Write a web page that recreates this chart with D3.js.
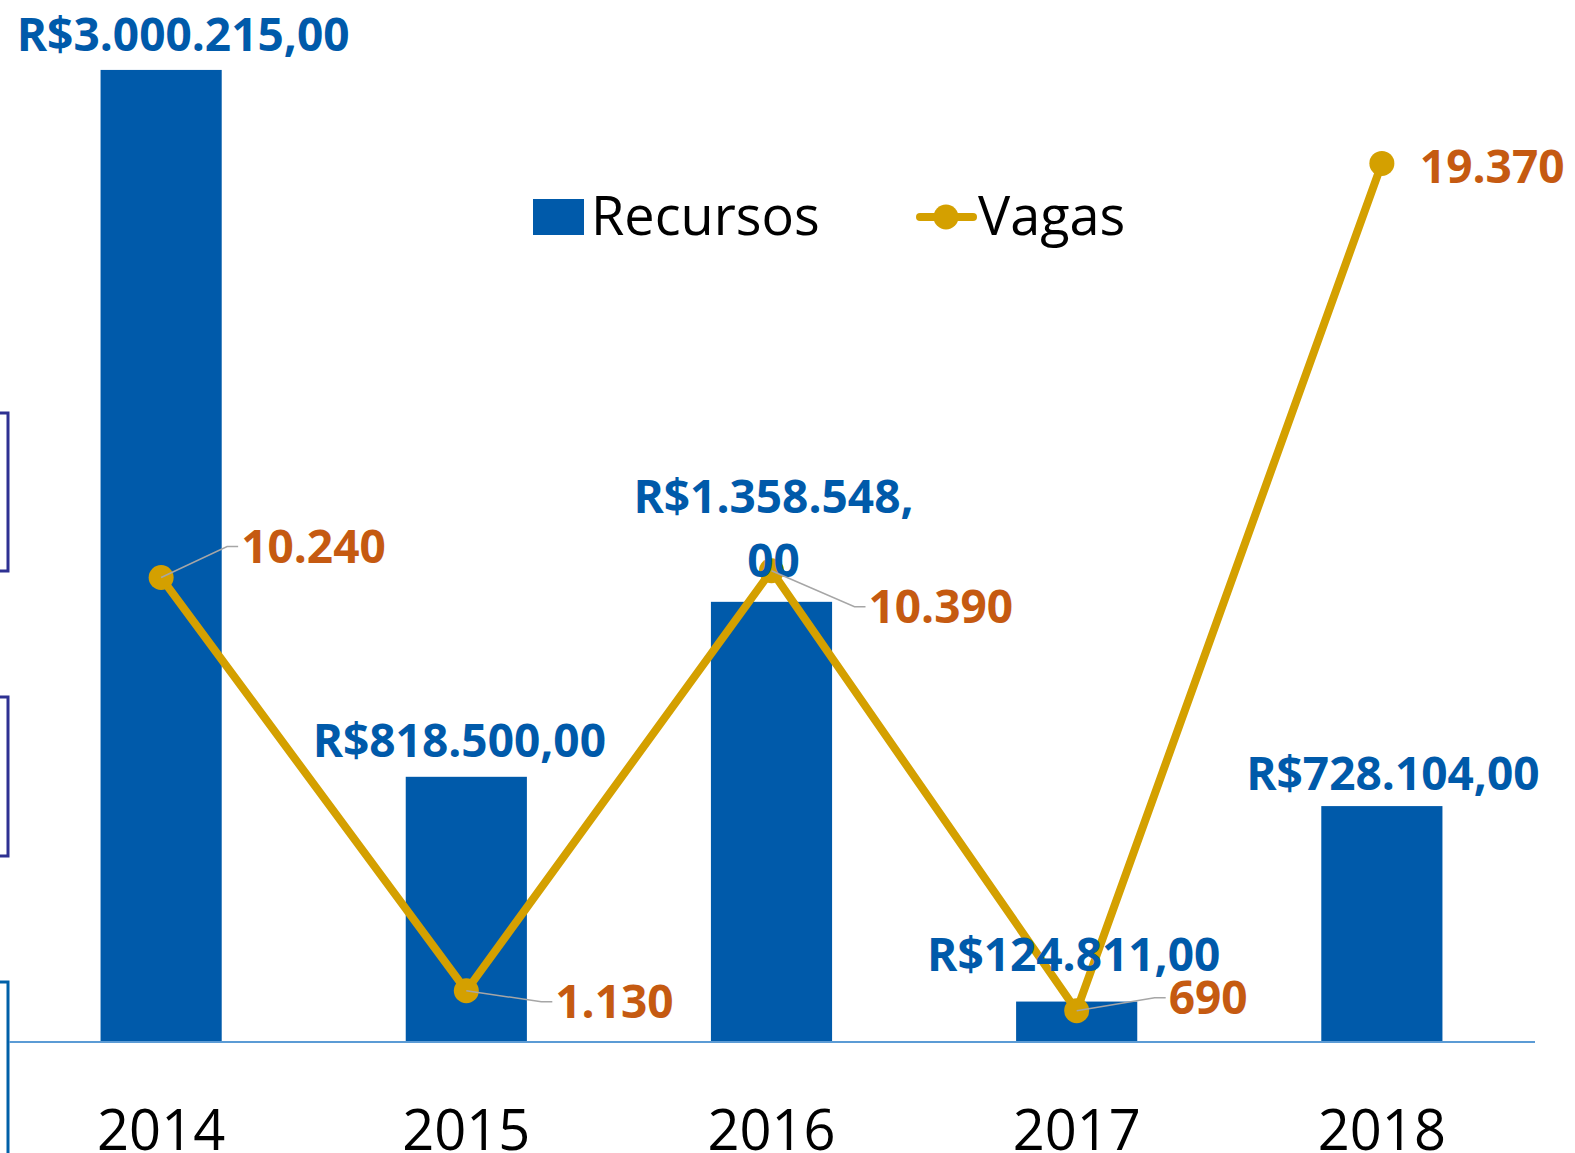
<!DOCTYPE html>
<html>
<head>
<meta charset="utf-8">
<script src="https://cdnjs.cloudflare.com/ajax/libs/d3/7.8.5/d3.min.js"></script>
<style>
	html, body { margin: 0; padding: 0; background: #ffffff; }
	svg { display: block; }
</style>
</head>
<body>
<div id="chart"></div>
<script>
//////////
// DATA //
//////////
var years = ["2014", "2015", "2016", "2017", "2018"];
var recursos = [3000215.00, 818500.00, 1358548.00, 124811.00, 728104.00];
var vagas = [10240, 1130, 10390, 690, 19370];
var recursosLabels = ["R$3.000.215,00", "R$818.500,00", "R$1.358.548,|00", "R$124.811,00", "R$728.104,00"];
var vagasLabels = ["10.240", "1.130", "10.390", "690", "19.370"];
var legendNames = ["Recursos", "Vagas"];

/////////////////
// "CONSTANTS" //
/////////////////
var WIDTH = 1575;
var HEIGHT = 1153;
var BASELINE_Y = 1042;
var TOP_Y = -92;
var PLOT_LEFT = 9;
var PLOT_RIGHT = 1535;
var BAR_COLOR = "#005aaa";
var LINE_COLOR = "#d4a000";
var VAGAS_TEXT_COLOR = "#c55a11";
var LEADER_COLOR = "#a6a6a6";
var AXIS_COLOR = "#5b9bd5";
var FONT = "'Open Sans', 'DejaVu Sans', sans-serif";
var LABEL_SIZE = 46;

// manual nudges of the data labels (as moved in the original workbook)
var BAR_LABEL_NUDGE = [[22, -19], [-7, -20], [2, -25], [-3, -31], [11, -16]];
var VAGAS_LABEL_NUDGE = [[80, -15], [89, 27], [97, 52], [92, 3], [38, 20]];
var VAGAS_LEADER = [true, true, true, true, false];

///////////
// SETUP //
///////////
var svg = d3.select("#chart")
	.append("svg")
	.attr("width", WIDTH)
	.attr("height", HEIGHT)
	.attr("viewBox", "0 0 " + WIDTH + " " + HEIGHT);

var x = d3.scaleBand()
	.domain(years)
	.range([PLOT_LEFT, PLOT_LEFT + 5 * 305])
	.paddingInner(0.603)
	.paddingOuter(0.3);

var yBars = d3.scaleLinear()
	.domain([0, 3500000])
	.range([BASELINE_Y, TOP_Y]);

var yLine = d3.scaleLinear()
	.domain([0, 25000])
	.range([BASELINE_Y, TOP_Y]);

var cx = function(d) { return x(d) + x.bandwidth() / 2; };

// cropped frames from the slide at the left edge
var frames = [[413, 571, "#2e3192"], [697, 856, "#2e3192"], [982, 1160, "#0060a8"]];
frames.forEach(function(f) {
	svg.append("path")
		.attr("d", "M0," + f[0] + " H8 V" + f[1] + " H0")
		.attr("fill", "none")
		.attr("stroke", f[2])
		.attr("stroke-width", 3);
});

//////////
// BARS //
//////////
svg.append("g")
	.selectAll("rect")
	.data(recursos)
	.join("rect")
	.attr("x", function(d, i) { return x(years[i]); })
	.attr("y", function(d) { return yBars(d); })
	.attr("width", x.bandwidth())
	.attr("height", function(d) { return BASELINE_Y - yBars(d); })
	.attr("fill", BAR_COLOR);

// category axis
var xAxis = svg.append("g")
	.attr("transform", "translate(0," + BASELINE_Y + ")")
	.call(d3.axisBottom(x).tickSize(0).tickPadding(0));
xAxis.select(".domain").remove();
xAxis.append("line")
	.attr("x1", PLOT_LEFT)
	.attr("x2", PLOT_RIGHT)
	.attr("stroke", AXIS_COLOR)
	.attr("stroke-width", 2);
xAxis.selectAll(".tick text")
	.attr("y", 108)
	.attr("dy", null)
	.attr("fill", "#000000")
	.attr("font-family", FONT)
	.attr("font-size", 56);

//////////
// LINE //
//////////
var line = d3.line()
	.x(function(d, i) { return cx(years[i]); })
	.y(function(d) { return yLine(d); });

svg.append("path")
	.datum(vagas)
	.attr("d", line)
	.attr("fill", "none")
	.attr("stroke", LINE_COLOR)
	.attr("stroke-width", 8)
	.attr("stroke-linejoin", "round");

svg.append("g")
	.selectAll("circle")
	.data(vagas)
	.join("circle")
	.attr("cx", function(d, i) { return cx(years[i]); })
	.attr("cy", function(d) { return yLine(d); })
	.attr("r", 12.5)
	.attr("fill", LINE_COLOR);

////////////
// LABELS //
////////////
recursos.forEach(function(d, i) {
	var lines = recursosLabels[i].split("|");
	var bx = cx(years[i]) + BAR_LABEL_NUDGE[i][0];
	var by = yBars(d) + BAR_LABEL_NUDGE[i][1];
	lines.forEach(function(t, j) {
		svg.append("text")
			.attr("x", bx)
			.attr("y", by - (lines.length - 1 - j) * 64)
			.attr("text-anchor", "middle")
			.attr("font-family", FONT)
			.attr("font-weight", "bold")
			.attr("font-size", LABEL_SIZE)
			.attr("fill", BAR_COLOR)
			.text(t);
	});
});

vagas.forEach(function(d, i) {
	var px = cx(years[i]);
	var py = yLine(d);
	var lx = px + VAGAS_LABEL_NUDGE[i][0];
	var ly = py + VAGAS_LABEL_NUDGE[i][1];
	var mid = ly - 16;
	if (VAGAS_LEADER[i]) {
		svg.append("polyline")
			.attr("points", px + "," + py + " " + (lx - 14) + "," + mid + " " + (lx - 3) + "," + mid)
			.attr("fill", "none")
			.attr("stroke", LEADER_COLOR)
			.attr("stroke-width", 1.5);
	}
	svg.append("text")
		.attr("x", lx)
		.attr("y", ly)
		.attr("font-family", FONT)
		.attr("font-weight", "bold")
		.attr("font-size", LABEL_SIZE)
		.attr("fill", VAGAS_TEXT_COLOR)
		.text(vagasLabels[i]);
});

////////////
// LEGEND //
////////////
var legend = svg.append("g");
legend.append("rect")
	.attr("x", 533)
	.attr("y", 199)
	.attr("width", 51)
	.attr("height", 36)
	.attr("fill", BAR_COLOR);
legend.append("text")
	.attr("x", 591)
	.attr("y", 235)
	.attr("font-family", FONT)
	.attr("font-size", 54)
	.attr("fill", "#000000")
	.text(legendNames[0]);
legend.append("line")
	.attr("x1", 920)
	.attr("x2", 973)
	.attr("y1", 217)
	.attr("y2", 217)
	.attr("stroke", LINE_COLOR)
	.attr("stroke-width", 8)
	.attr("stroke-linecap", "round");
legend.append("circle")
	.attr("cx", 946)
	.attr("cy", 217)
	.attr("r", 12.5)
	.attr("fill", LINE_COLOR);
legend.append("text")
	.attr("x", 978)
	.attr("y", 235)
	.attr("font-family", FONT)
	.attr("font-size", 54)
	.attr("fill", "#000000")
	.text(legendNames[1]);
</script>
</body>
</html>
